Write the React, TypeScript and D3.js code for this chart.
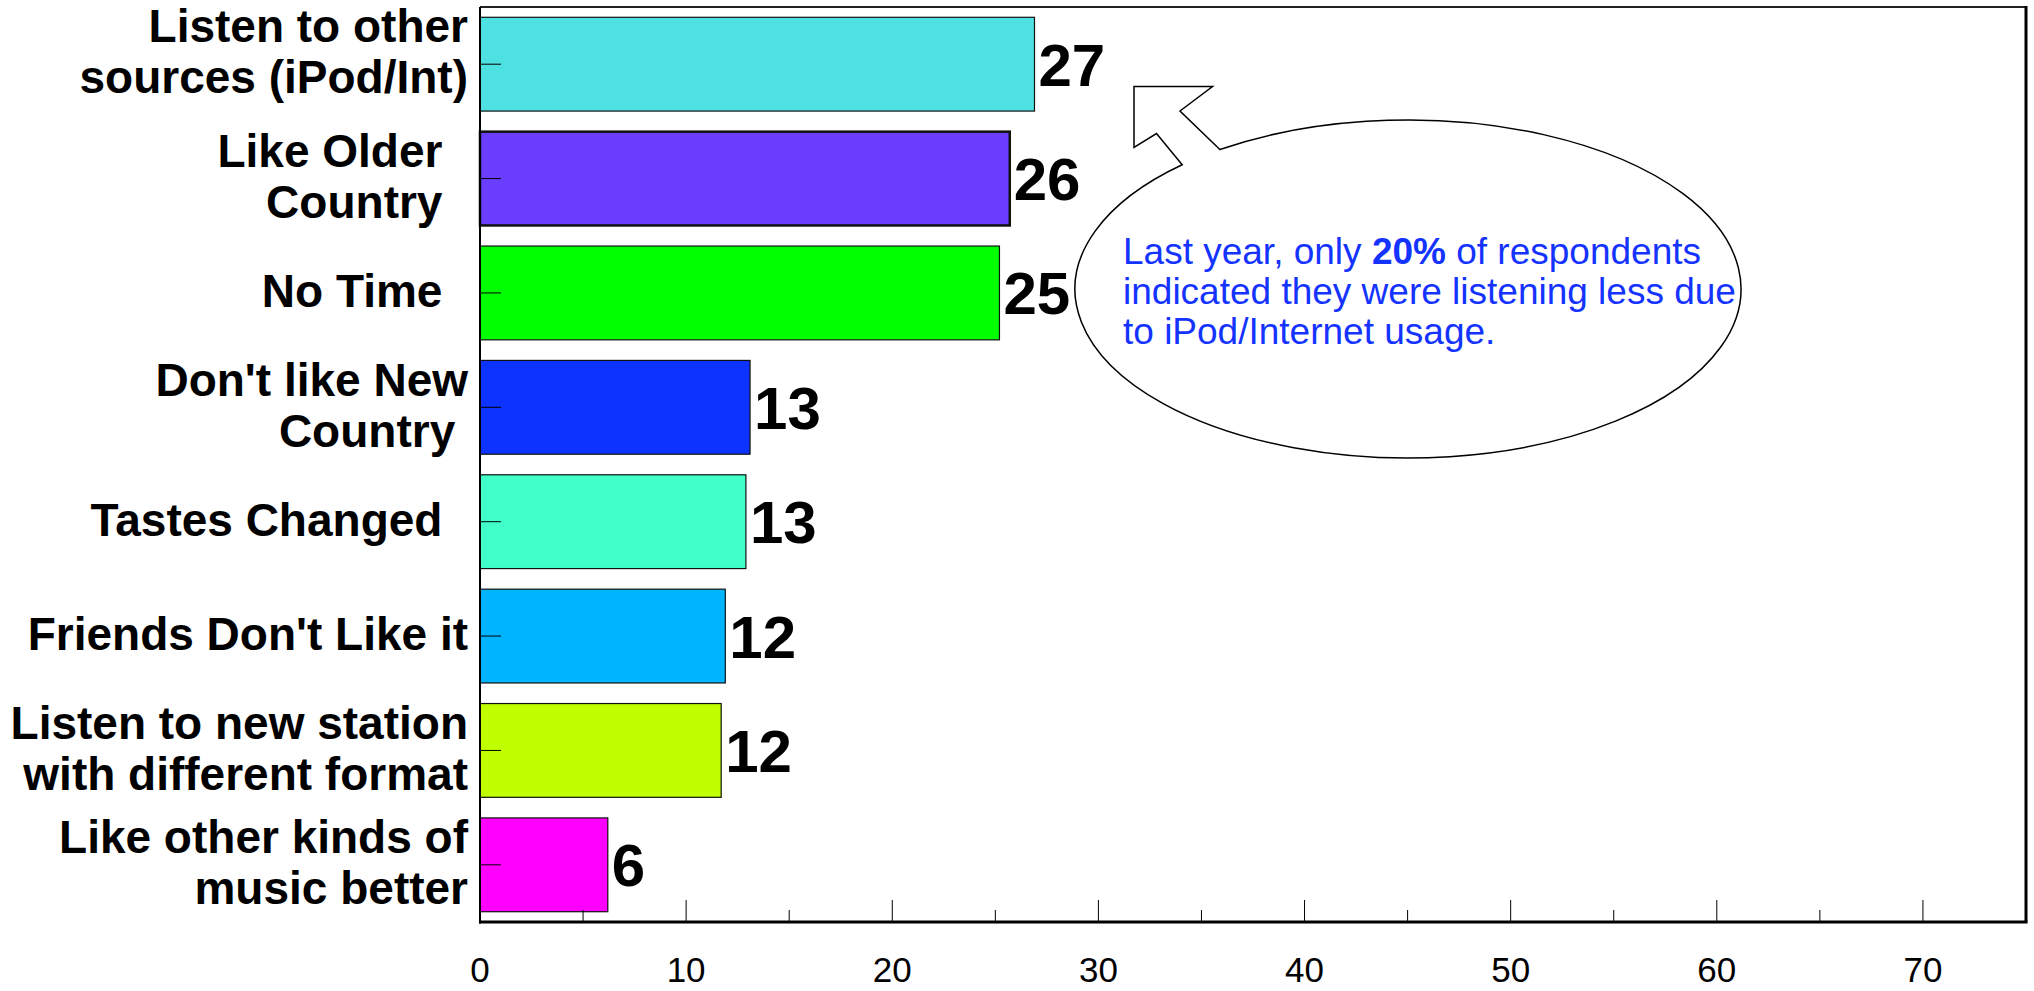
import * as d3 from 'd3';
import React, { useEffect, useRef } from "react";

const categories = [
    "Listen to other sources (iPod/Int)",
    "Like Older Country",
    "No Time",
    "Don't like New Country",
    "Tastes Changed",
    "Friends Don't Like it",
    "Listen to new station with different format",
    "Like other kinds of music better",
];

// label lines as they are broken in the picture (trailing spaces kept)
const categoryLines = [
    ["Listen to other", "sources (iPod/Int)"],
    ["Like Older  ", "Country  "],
    ["No Time  "],
    ["Don't like New", "Country "],
    ["Tastes Changed  "],
    ["Friends Don't Like it"],
    ["Listen to new station", "with different format"],
    ["Like other kinds of", "music better"],
];

const values = [26.9, 25.7, 25.2, 13.1, 12.9, 11.9, 11.7, 6.2];

const barColors = ['#4ee1e1', '#6a3dff', '#00ff00', '#0c33ff', '#40ffc8', '#00b4ff', '#bfff00', '#ff00ff'];

const xTicks = [0, 10, 20, 30, 40, 50, 60, 70];
const xMinorTicks = [5, 15, 25, 35, 45, 55, 65];

const noteLines = [
    ["Last year, only ", "20%", " of respondents"],
    ["indicated they were listening less due"],
    ["to iPod/Internet usage."],
];

const font = '"Liberation Sans", Arial, sans-serif';

const App: React.FC = () => {
    const ref = useRef<SVGSVGElement>(null);

    useEffect(() => {
        if (!ref.current) return;
        const width = 2034;
        const height = 991;
        const left = 480, right = 2026, top = 7, bottom = 922;

        const svg = d3.select(ref.current)
            .attr('width', width)
            .attr('height', height);
        svg.selectAll('*').remove();

        const x = d3.scaleLinear().domain([0, 75]).range([left, right]);
        const y = d3.scaleBand<string>()
            .domain(categories)
            .range([top, bottom])
            .paddingInner(0.18)
            .paddingOuter(0.09);

        // frame
        svg.append('line').attr('x1', left).attr('x2', right).attr('y1', top).attr('y2', top)
            .attr('stroke', '#222').attr('stroke-width', 2);
        svg.append('line').attr('x1', right).attr('x2', right).attr('y1', top - 1).attr('y2', bottom)
            .attr('stroke', '#000').attr('stroke-width', 3);

        // bars
        const bars = svg.selectAll('.bar')
            .data(values)
            .enter()
            .append('g')
            .attr('class', 'bar');

        bars.append('rect')
            .attr('x', x(0))
            .attr('y', (_, i) => y(categories[i])!)
            .attr('width', d => x(d) - x(0))
            .attr('height', y.bandwidth())
            .attr('fill', (_, i) => barColors[i])
            .attr('stroke', '#111')
            .attr('stroke-width', (_, i) => i === 1 ? 2.5 : 1.2);

        bars.append('text')
            .attr('x', d => x(d) + 4)
            .attr('y', (_, i) => y(categories[i])! + y.bandwidth() / 2 + 21.5)
            .attr('font-family', font)
            .attr('font-weight', 'bold')
            .attr('font-size', 60)
            .attr('fill', '#000')
            .text(d => d3.format('.0f')(d));

        // y axis
        svg.append('line').attr('x1', left).attr('x2', left).attr('y1', top).attr('y2', bottom + 1.5)
            .attr('stroke', '#000').attr('stroke-width', 2);
        svg.selectAll('.ytick')
            .data(categories)
            .enter()
            .append('line')
            .attr('x1', left).attr('x2', left + 21)
            .attr('y1', d => y(d)! + y.bandwidth() / 2)
            .attr('y2', d => y(d)! + y.bandwidth() / 2)
            .attr('stroke', '#000').attr('stroke-width', 1);

        const labels = svg.selectAll('.ylabel')
            .data(categories)
            .enter()
            .append('text')
            .attr('font-family', font)
            .attr('font-weight', 'bold')
            .attr('font-size', 46)
            .attr('text-anchor', 'end')
            .style('white-space', 'pre')
            .attr('fill', '#000');
        labels.each(function (d, i) {
            const lines = categoryLines[i];
            // the top label sits against the top of the frame
            const cy = y(d)! + y.bandwidth() / 2 - (i === 0 ? 11 : 0);
            d3.select(this).selectAll('tspan')
                .data(lines)
                .enter()
                .append('tspan')
                .attr('x', 468)
                .attr('y', (_, j) => cy + (j - (lines.length - 1) / 2) * 51 + 14)
                .text(t => t);
        });

        // x axis
        svg.append('line').attr('x1', left - 1).attr('x2', right + 1.5).attr('y1', bottom).attr('y2', bottom)
            .attr('stroke', '#000').attr('stroke-width', 3);
        svg.selectAll('.xtick')
            .data(xTicks.filter(t => t > 0))
            .enter()
            .append('line')
            .attr('x1', d => x(d)).attr('x2', d => x(d))
            .attr('y1', bottom).attr('y2', bottom - 22)
            .attr('stroke', '#000').attr('stroke-width', 1);
        svg.selectAll('.xminor')
            .data(xMinorTicks)
            .enter()
            .append('line')
            .attr('x1', d => x(d)).attr('x2', d => x(d))
            .attr('y1', bottom).attr('y2', bottom - 12)
            .attr('stroke', '#000').attr('stroke-width', 1);
        svg.selectAll('.xlabel')
            .data(xTicks)
            .enter()
            .append('text')
            .attr('x', d => x(d))
            .attr('y', 982)
            .attr('text-anchor', 'middle')
            .attr('font-family', font)
            .attr('font-size', 35)
            .attr('fill', '#000')
            .text(d => d);

        // callout balloon with arrow
        const cx = 1408, cy = 289, rx = 333, ry = 169;
        const onEllipse = (deg: number) => {
            const t = deg * Math.PI / 180;
            return [cx + rx * Math.cos(t), cy + ry * Math.sin(t)];
        };
        const p1 = onEllipse(-124.4);
        const p2 = onEllipse(-132.7);
        const path = d3.path();
        path.moveTo(p1[0], p1[1]);
        path.lineTo(1180, 111);
        path.lineTo(1212.5, 86.5);
        path.lineTo(1134, 86.5);
        path.lineTo(1134, 147.5);
        path.lineTo(1156.5, 133.5);
        path.lineTo(p2[0], p2[1]);
        const d = path.toString() + `A${rx},${ry},0,1,0,${p1[0]},${p1[1]}Z`;
        svg.append('path')
            .attr('d', d)
            .attr('fill', '#fff')
            .attr('stroke', '#000')
            .attr('stroke-width', 1.5);

        const note = svg.append('text')
            .attr('font-family', font)
            .attr('font-size', 37)
            .attr('fill', '#1433ff')
            .style('white-space', 'pre');
        noteLines.forEach((parts, i) => {
            parts.forEach((p, j) => {
                const ts = note.append('tspan').text(p);
                if (j === 0) ts.attr('x', 1123).attr('y', 264 + i * 40);
                if (p === '20%') ts.attr('font-weight', 'bold');
            });
        });
    }, []);

    return (
        <svg ref={ref} style={{ position: 'absolute', left: 0, top: 0, background: '#fff' }}></svg>
    );
}

export default App;
